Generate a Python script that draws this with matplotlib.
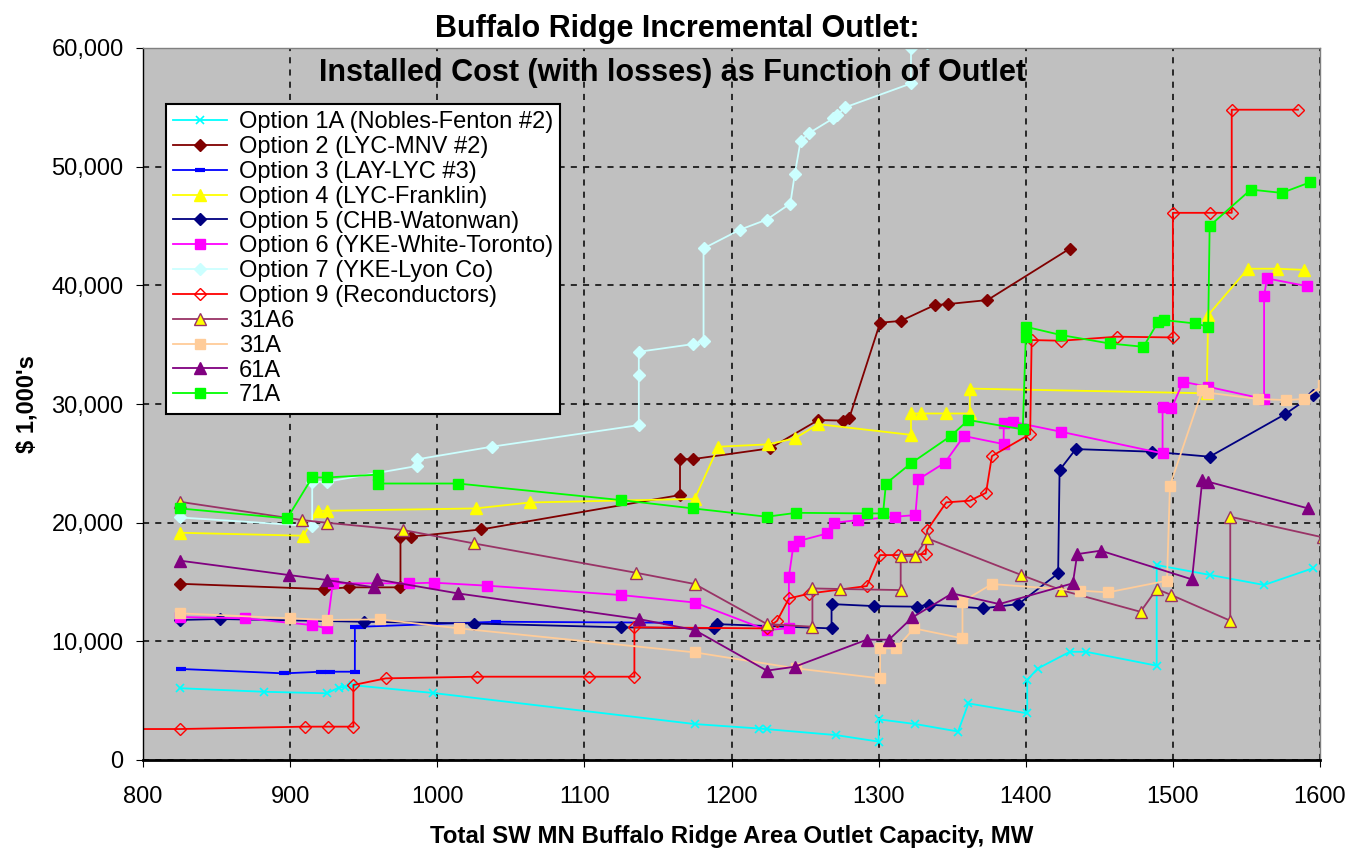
import numpy as np
import matplotlib
matplotlib.use("Agg")
import matplotlib.pyplot as plt
from matplotlib.ticker import FuncFormatter, MultipleLocator

plt.rcParams.update({
    "font.family": ["Liberation Sans", "DejaVu Sans"],
    "axes.linewidth": 1.0,
    "xtick.direction": "out",
    "ytick.direction": "out",
    "xtick.major.size": 5,
    "ytick.major.size": 5,
    "legend.fancybox": False,
})

# ---- data (MW vs $1,000's) --------------------------------------------------
opt1a_x = [825, 882, 925, 933, 937, 943, 997, 1175, 1219, 1224, 1271, 1300, 1300,
           1325, 1354, 1361, 1401, 1401, 1408, 1430, 1441, 1489, 1489, 1525, 1562, 1595]
opt1a_y = [6050, 5750, 5620, 6100, 6170, 6300, 5650, 3030, 2650, 2600, 2100, 1550, 3430,
           3030, 2400, 4770, 3930, 6740, 7700, 9120, 9120, 7950, 16430, 15600, 14750, 16150]

opt2_x = [825, 923, 940, 975, 975, 982, 1030, 1165, 1165, 1174, 1226, 1259, 1276, 1280,
          1301, 1315, 1338, 1347, 1374, 1430]
opt2_y = [14850, 14400, 14550, 14550, 18820, 18820, 19430, 22330, 25360, 25360, 26260,
          28650, 28600, 28800, 36850, 37000, 38330, 38420, 38760, 43100]

opt3_x = [826, 896, 921, 927, 944, 944, 948, 1040, 1157]
opt3_y = [7670, 7300, 7440, 7440, 7440, 11230, 11230, 11650, 11570]

opt4_x = [825, 909, 919, 925, 1026, 1063, 1175, 1191, 1225, 1243, 1259, 1322, 1322, 1329,
          1346, 1362, 1362, 1523, 1524, 1551, 1571, 1589]
opt4_y = [19150, 18900, 21000, 21000, 21200, 21700, 22000, 26400, 26600, 27100, 28300,
          27400, 29200, 29200, 29200, 29200, 31300, 30900, 37500, 41400, 41400, 41300]

opt5_x = [825, 852, 950, 1025, 1125, 1188, 1190, 1268, 1268, 1297, 1326, 1334, 1371, 1395,
          1422, 1423, 1434, 1486, 1525, 1576, 1595, 1605]
opt5_y = [11800, 11880, 11650, 11500, 11180, 11090, 11450, 11090, 13140, 12970, 12920,
          13100, 12780, 13140, 15730, 24430, 26200, 25980, 25560, 29120, 30750, 30650]

opt6_x = [825, 869, 915, 925, 929, 981, 998, 1034, 1125, 1175, 1224, 1239, 1239, 1242,
          1246, 1265, 1270, 1286, 1311, 1325, 1327, 1345, 1358, 1385, 1385, 1391, 1424,
          1493, 1493, 1499, 1507, 1524, 1562, 1562, 1564, 1591]
opt6_y = [12050, 11940, 11370, 11090, 14890, 14890, 14940, 14690, 13900, 13270, 10950,
          11100, 15440, 18030, 18470, 19090, 19990, 20220, 20500, 20640, 23650, 25050,
          27300, 26620, 28420, 28500, 27660, 25840, 29770, 29630, 31870, 31450, 30420,
          39120, 40580, 39940]

opt7_x = [825, 915, 915, 925, 986, 986, 1037, 1137, 1137, 1137, 1174, 1181, 1181, 1206,
          1224, 1240, 1243, 1247, 1253, 1269, 1272, 1277, 1322, 1322, 1333]
opt7_y = [20440, 19710, 23450, 23450, 24770, 25330, 26400, 28220, 32430, 34400, 35050,
          35330, 43110, 44700, 45540, 46890, 49370, 52180, 52850, 54060, 54340, 54990,
          57010, 59960, 60380]

opt9_x = [780, 825, 910, 926, 943, 943, 965, 1027, 1103, 1134, 1134, 1224, 1231, 1239,
          1253, 1292, 1301, 1313, 1332, 1333, 1346, 1362, 1373, 1377, 1403, 1404, 1424,
          1462, 1500, 1500, 1525, 1540, 1540, 1585]
opt9_y = [2610, 2610, 2810, 2810, 2810, 6320, 6880, 7020, 7020, 7020, 11180, 11090, 11730,
          13610, 14030, 14660, 17270, 17270, 17360, 19380, 21710, 21850, 22520, 25610,
          27470, 35390, 35330, 35670, 35610, 46110, 46110, 46110, 54800, 54800]

s31a6_x = [825, 908, 925, 977, 1025, 1135, 1175, 1224, 1255, 1255, 1274, 1315, 1315, 1325,
           1333, 1397, 1424, 1478, 1489, 1499, 1539, 1539, 1602]
s31a6_y = [21760, 20220, 19990, 19380, 18250, 15780, 14830, 11460, 11230, 14460, 14410,
           14320, 17190, 17190, 18680, 15590, 14320, 12490, 14410, 13900, 11740, 20500, 18760]

s31a_x = [825, 900, 925, 961, 1015, 1175, 1244, 1301, 1301, 1312, 1324, 1357, 1357, 1377,
          1437, 1456, 1496, 1498, 1520, 1524, 1558, 1577, 1589, 1602]
s31a_y = [12360, 11940, 11800, 11850, 11090, 9070, 7720, 6880, 9410, 9410, 11090, 10250,
          13340, 14830, 14270, 14130, 15110, 23110, 31170, 30950, 30420, 30330, 30420, 31590]

s61a_x = [825, 899, 925, 957, 959, 1014, 1137, 1175, 1224, 1243, 1292, 1307, 1323, 1350,
          1382, 1432, 1435, 1451, 1513, 1520, 1524, 1592]
s61a_y = [16800, 15590, 15170, 14550, 15220, 14040, 11880, 10950, 7530, 7860, 10140, 10140,
          12020, 14040, 13140, 14890, 17350, 17640, 15220, 23590, 23450, 21200]

s71a_x = [825, 898, 915, 925, 960, 960, 1014, 1125, 1174, 1224, 1244, 1292, 1303, 1305,
          1322, 1349, 1361, 1398, 1400, 1400, 1424, 1457, 1480, 1490, 1494, 1515, 1524,
          1525, 1553, 1574, 1593]
s71a_y = [21200, 20360, 23810, 23810, 24050, 23300, 23300, 21900, 21200, 20500, 20830,
          20780, 20780, 23300, 25000, 27300, 28650, 27860, 35610, 36510, 35810, 35100,
          34820, 36930, 37070, 36790, 36510, 45010, 48070, 47790, 48670]

# ---- series styles -------------------------------------------------------------
SERIES = [
    ("Option 1A (Nobles-Fenton #2)", opt1a_x, opt1a_y,
     dict(color="#00FFFF", marker="x", ms=6, mew=1.2)),
    ("Option 2 (LYC-MNV #2)", opt2_x, opt2_y,
     dict(color="#800000", marker="D", ms=6)),
    ("Option 3 (LAY-LYC #3)", opt3_x, opt3_y,
     dict(color="#0000FF", marker="_", ms=7, mew=3)),
    ("Option 4 (LYC-Franklin)", opt4_x, opt4_y,
     dict(color="#FFFF00", marker="^", ms=8)),
    ("Option 5 (CHB-Watonwan)", opt5_x, opt5_y,
     dict(color="#000080", marker="D", ms=6)),
    ("Option 6 (YKE-White-Toronto)", opt6_x, opt6_y,
     dict(color="#FF00FF", marker="s", ms=7)),
    ("Option 7 (YKE-Lyon Co)", opt7_x, opt7_y,
     dict(color="#CCFFFF", marker="D", ms=6)),
    ("Option 9 (Reconductors)", opt9_x, opt9_y,
     dict(color="#FF0000", marker="D", ms=6, mfc="none", mew=1.0)),
    ("31A6", s31a6_x, s31a6_y,
     dict(color="#993366", marker="^", ms=8, mfc="#FFFF00", mec="#993366", mew=1.0)),
    ("31A", s31a_x, s31a_y,
     dict(color="#FFCC99", marker="s", ms=7)),
    ("61A", s61a_x, s61a_y,
     dict(color="#800080", marker="^", ms=8)),
    ("71A", s71a_x, s71a_y,
     dict(color="#00FF00", marker="s", ms=7)),
]

fig = plt.figure(figsize=(13.59, 8.55), dpi=100)
ax = fig.add_axes([143 / 1359, 1 - 760 / 855, 1177 / 1359, 712 / 855])
ax.set_facecolor("#C0C0C0")

for label, xs, ys, st in SERIES:
    ax.plot(xs, ys, lw=1.3, label=label, clip_on=True, **st)

ax.set_xlim(800, 1600)
ax.set_ylim(0, 60000)
ax.xaxis.set_major_locator(MultipleLocator(100))
ax.yaxis.set_major_locator(MultipleLocator(10000))
ax.yaxis.set_major_formatter(FuncFormatter(lambda v, p: f"{int(v):,}"))
ax.tick_params(labelsize=17, colors="black")
ax.tick_params(axis="x", pad=14)
ax.tick_params(axis="y", pad=9)
ax.grid(True, color="black", ls=(0, (4, 4)), lw=1.1)
ax.set_axisbelow(True)

for side in ("top", "right"):
    ax.spines[side].set_color("#808080")
ax.spines["bottom"].set_linewidth(2.0)

ax.set_xlabel("Total SW MN Buffalo Ridge Area Outlet Capacity, MW",
              fontsize=17.3, fontweight="bold", labelpad=12)
ax.set_ylabel(r"\$ 1,000's", fontsize=17, fontweight="bold", labelpad=9)

fig.text(0.498, 0.966, "Buffalo Ridge Incremental Outlet:", ha="center", va="center",
         fontsize=22, fontweight="bold")
fig.text(0.495, 0.915, "Installed Cost (with losses) as Function of Outlet", ha="center",
         va="center", fontsize=22, fontweight="bold")

leg = ax.legend(loc="upper left", bbox_to_anchor=(0.0195, 0.921), borderaxespad=0,
                fontsize=17, frameon=True, handlelength=2.3, labelspacing=0.12,
                borderpad=0.3, handletextpad=0.5)
leg.get_frame().set_edgecolor("black")
leg.get_frame().set_linewidth(1.5)
leg.get_frame().set_facecolor("white")
leg.get_frame().set_alpha(1.0)

fig.savefig("out.png", dpi=100, facecolor="white")
